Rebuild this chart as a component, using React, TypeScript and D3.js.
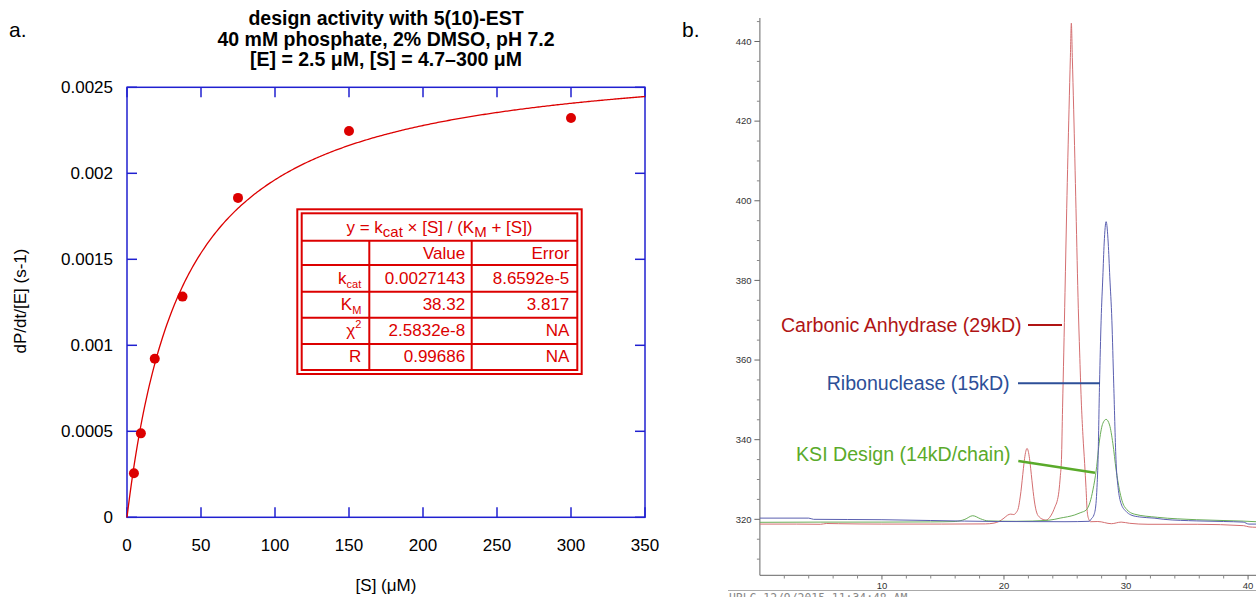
import React from "react";
import * as d3 from "d3";

// ---------- Panel a: Michaelis–Menten kinetics ----------
const substrateUM = [4.6875, 9.375, 18.75, 37.5, 75, 150, 300];
const rateValues = [0.000256, 0.000488, 0.000922, 0.001283, 0.001857, 0.002246, 0.002322];
const kcat = 0.0027143;
const KM = 38.32;
const xTicksA = [0, 50, 100, 150, 200, 250, 300, 350];
const yTicksA = [0, 0.0005, 0.001, 0.0015, 0.002, 0.0025];
const yTickLabelsA = ["0", "0.0005", "0.001", "0.0015", "0.002", "0.0025"];
const titleLines = [
  "design activity with 5(10)-EST",
  "40 mM phosphate, 2% DMSO, pH 7.2",
  "[E] = 2.5 \u03BCM, [S] = 4.7\u2013300 \u03BCM",
];
const xTitleA = "[S] (\u03BCM)";
const yTitleA = "dP/dt/[E] (s-1)";
const fitRows = [
  { name: "k", sub: "cat", sup: "", value: "0.0027143", error: "8.6592e-5" },
  { name: "K", sub: "M", sup: "", value: "38.32", error: "3.817" },
  { name: "\u03C7", sub: "", sup: "2", value: "2.5832e-8", error: "NA" },
  { name: "R", sub: "", sup: "", value: "0.99686", error: "NA" },
];

// ---------- Panel b: size-exclusion chromatograms ----------
const carbonicAnhydrase: [number, number][] = [
  [0, 318.8], [2.98, 318.8], [4.97, 318.75], [5.44, 318.95], [6.46, 318.9], [9.94, 318.8],
  [14.9, 318.8], [18.48, 318.85], [19.18, 319.05], [19.55, 319.4], [20.0, 320.3], [20.3, 321.05],
  [20.55, 321.3], [20.8, 321.2], [21.0, 321.7], [21.19, 323.0], [21.29, 324.8], [21.39, 327.0],
  [21.49, 329.8], [21.59, 332.7], [21.69, 335.3], [21.79, 337.1], [21.89, 337.8], [21.99, 337.1],
  [22.09, 335.3], [22.19, 332.7], [22.29, 329.8], [22.39, 327.0], [22.49, 324.6], [22.59, 322.8],
  [22.69, 321.6], [22.89, 320.6], [23.1, 320.1], [23.44, 319.8], [23.75, 320.5], [24.0, 321.8],
  [24.2, 323.3], [24.35, 324.5], [24.5, 327], [24.62, 331], [24.71, 335], [24.8, 348],
  [24.9, 362], [25.0, 377], [25.14, 398], [25.33, 423], [25.44, 436], [25.52, 444.6],
  [25.6, 436], [25.71, 423], [25.9, 398], [26.09, 373], [26.2, 362], [26.33, 350],
  [26.47, 341], [26.61, 334], [26.72, 328], [26.82, 322], [26.95, 320.0], [27.1, 319.4],
  [27.69, 319.45], [28.8, 318.9], [29.6, 319.3], [30.3, 319.0], [31.8, 318.75], [35.83, 318.75],
  [39.64, 318.4], [40.07, 318.1], [40.65, 318.0],
];
const ribonuclease: [number, number][] = [
  [0, 320.3], [4.0, 320.3], [4.4, 320.0], [10, 319.9], [14, 319.7], [19.5, 319.45], [25, 319.4],
  [27.0, 319.5], [27.15, 320.1], [27.37, 321.1], [27.54, 324], [27.62, 328], [27.7, 334.1],
  [27.83, 354.2], [27.96, 370], [28.1, 380.9], [28.21, 389.4], [28.37, 394.75], [28.54, 389.4],
  [28.67, 380.9], [28.84, 370], [28.99, 354.2], [29.19, 334.1], [29.35, 328], [29.59, 324],
  [30.0, 322], [30.4, 321.1], [31.1, 320.6], [32.3, 320.3], [33.1, 320.0], [35.8, 319.6],
  [38, 319.45], [39.6, 319.3], [40.07, 318.8], [40.65, 318.8],
];
const ksiDesign: [number, number][] = [
  [0, 319.25], [5, 319.3], [10, 319.3], [14, 319.35], [16.0, 319.45], [16.8, 320.0], [17.44, 320.9],
  [18.1, 320.1], [18.7, 319.6], [21, 319.5], [23.62, 319.75], [24.6, 320.3], [25.8, 321.1],
  [26.3, 321.7], [26.74, 322.35], [27.05, 324.3], [27.29, 327.4], [27.56, 332.4], [27.83, 339.9],
  [28.1, 344.1], [28.37, 345.1], [28.65, 343.7], [28.92, 339.1], [29.19, 332.4], [29.46, 327.4],
  [29.87, 323.2], [30.68, 321.3], [32.58, 320.5], [35.8, 319.9], [39.6, 319.55], [40.65, 319.4],
];
const yTicksB = [320, 340, 360, 380, 400, 420, 440];
const xTicksB = [10, 20, 30, 40];
const runStamp = "HPLC 12/9/2015 11:34:48 AM";

const SANS = "'Liberation Sans', Arial, Helvetica, sans-serif";
const RED = "#dc0000";
const BLUE = "#2020d0";

export default function App() {
  // panel a scales
  const xA = d3.scaleLinear().domain([0, 350]).range([127, 645]);
  const yA = d3.scaleLinear().domain([0, 0.0025]).range([517.3, 87.3]);
  const fitX = d3.range(0, 350.01, 1);
  const fitPath = d3
    .line<number>()
    .x((s) => xA(s))
    .y((s) => yA((kcat * s) / (KM + s)))(fitX) as string;

  // panel b scales
  const xB = d3.scaleLinear().domain([0, 40.65]).range([759.9, 1256]);
  const yB = d3.scaleLinear().domain([305.94, 445.9]).range([575.3, 18]);
  const trace = d3
    .line<[number, number]>()
    .x((d) => xB(d[0]))
    .y((d) => yB(d[1]))
    .curve(d3.curveMonotoneX);
  const minorY = d3.range(310, 446, 5).filter((v) => v % 20 !== 0);
  const minorX = d3.range(2, 41, 2).filter((v) => v % 10 !== 0);

  // table geometry
  const tX = [301.7, 369.3, 471.7, 577.3];
  const tY = [213.3, 240.7, 265, 291.7, 317.7, 344, 370];

  const [x0, x1] = xA.range();
  const [yb, yt] = yA.range();

  return (
    <svg
      width={1256}
      height={597}
      style={{ position: "absolute", left: 0, top: 0, background: "#fff" }}
      fontFamily={SANS}
    >
      <rect x={0} y={0} width={1256} height={597} fill="#fff" />
      {/* panel letters */}
      <text x={9} y={37} fontSize={21} fill="#000">a.</text>
      <text x={682} y={37} fontSize={21} fill="#000">b.</text>

      {/* ---------- panel a ---------- */}
      {titleLines.map((t, i) => (
        <text key={i} x={386} y={25 + i * 20.5} textAnchor="middle" fontWeight="bold" fontSize={19.5} fill="#000">
          {t}
        </text>
      ))}

      <rect x={x0} y={yt} width={x1 - x0} height={yb - yt} fill="none" stroke={BLUE} strokeWidth={1.5} />
      {xTicksA.map((v) => (
        <g key={"xa" + v} stroke={BLUE} strokeWidth={1.5}>
          <line x1={xA(v)} x2={xA(v)} y1={yb} y2={yb - 10} />
          <line x1={xA(v)} x2={xA(v)} y1={yt} y2={yt + 10} />
        </g>
      ))}
      {yTicksA.map((v) => (
        <g key={"ya" + v} stroke={BLUE} strokeWidth={1.5}>
          <line x1={x0} x2={x0 + 10} y1={yA(v)} y2={yA(v)} />
          <line x1={x1} x2={x1 - 10} y1={yA(v)} y2={yA(v)} />
        </g>
      ))}
      {xTicksA.map((v) => (
        <text key={"xl" + v} x={xA(v)} y={551} textAnchor="middle" fontSize={17} fill="#000">
          {v}
        </text>
      ))}
      {yTicksA.map((v, i) => (
        <text key={"yl" + v} x={113} y={yA(v)} dy="0.36em" textAnchor="end" fontSize={17} fill="#000">
          {yTickLabelsA[i]}
        </text>
      ))}
      <text x={386} y={591} textAnchor="middle" fontSize={17} fill="#000">{xTitleA}</text>
      <text transform="translate(26,301) rotate(-90)" textAnchor="middle" fontSize={17} fill="#000">
        {yTitleA}
      </text>

      <path d={fitPath} fill="none" stroke={RED} strokeWidth={1.3} />
      {substrateUM.map((s, i) => (
        <circle key={"pt" + i} cx={xA(s)} cy={yA(rateValues[i])} r={5} fill={RED} />
      ))}

      {/* fit parameter table */}
      <rect x={297.3} y={209.3} width={284.4} height={164.7} fill="#fff" stroke={RED} strokeWidth={2} />
      <rect x={tX[0]} y={tY[0]} width={tX[3] - tX[0]} height={tY[6] - tY[0]} fill="none" stroke={RED} strokeWidth={2} />
      {tY.slice(1, 6).map((y, i) => (
        <line key={"ty" + i} x1={tX[0]} x2={tX[3]} y1={y} y2={y} stroke={RED} strokeWidth={2} />
      ))}
      {[tX[1], tX[2]].map((x, i) => (
        <line key={"tx" + i} x1={x} x2={x} y1={tY[1]} y2={tY[6]} stroke={RED} strokeWidth={2} />
      ))}
      <text x={(tX[0] + tX[3]) / 2} y={233.3} textAnchor="middle" fontSize={17} fill={RED}>
        y = k<tspan fontSize={15} dy={4}>cat</tspan>
        <tspan dy={-4}> {"\u00D7"} [S] / (K</tspan>
        <tspan fontSize={15} dy={4}>M</tspan>
        <tspan dy={-4}> + [S])</tspan>
      </text>
      <text x={tX[2] - 6.5} y={259.3} textAnchor="end" fontSize={17} fill={RED}>Value</text>
      <text x={tX[3] - 8} y={259.3} textAnchor="end" fontSize={17} fill={RED}>Error</text>
      {fitRows.map((r, i) => {
        const base = 284 + i * 26.1;
        return (
          <g key={"row" + i} fill={RED} fontSize={17}>
            <text x={tX[1] - 8} y={base} textAnchor="end">
              {r.name}
              {r.sub && <tspan fontSize={11} dy={4}>{r.sub}</tspan>}
              {r.sup && <tspan fontSize={11} dy={-8}>{r.sup}</tspan>}
            </text>
            <text x={tX[2] - 6.5} y={base} textAnchor="end">{r.value}</text>
            <text x={tX[3] - 8} y={base} textAnchor="end">{r.error}</text>
          </g>
        );
      })}

      {/* ---------- panel b ---------- */}
      <line x1={xB(0)} x2={xB(0)} y1={18} y2={575.3} stroke="#666" strokeWidth={1} />
      <line x1={xB(0)} x2={1256} y1={575.3} y2={575.3} stroke="#666" strokeWidth={1} />
      {yTicksB.map((v) => (
        <g key={"yb" + v}>
          <line x1={xB(0) - 5.5} x2={xB(0)} y1={yB(v)} y2={yB(v)} stroke="#666" />
          <text x={751.5} y={yB(v)} dy="0.35em" textAnchor="end" fontSize={9.5} fill="#333">{v}</text>
        </g>
      ))}
      {minorY.map((v) => (
        <line key={"myb" + v} x1={xB(0) - 3} x2={xB(0)} y1={yB(v)} y2={yB(v)} stroke="#888" />
      ))}
      {minorX.map((v) => (
        <line key={"mxb" + v} x1={xB(v)} x2={xB(v)} y1={575.3} y2={578.5} stroke="#888" />
      ))}
      {xTicksB.map((v) => (
        <g key={"xb" + v}>
          <line x1={xB(v)} x2={xB(v)} y1={575.3} y2={579.5} stroke="#666" />
          <text x={xB(v)} y={589} textAnchor="middle" fontSize={9.5} fill="#333">{v}</text>
        </g>
      ))}
      <line x1={728} x2={1256} y1={590.5} y2={590.5} stroke="#aaa" strokeWidth={1} />
      <text x={729} y={602} fontFamily="'DejaVu Sans Mono', monospace" fontSize={11.4} fill="#888">
        {runStamp}
      </text>

      <path d={trace(carbonicAnhydrase) as string} fill="none" stroke="#d46e70" strokeWidth={1} />
      <path d={trace(ksiDesign) as string} fill="none" stroke="#6aae58" strokeWidth={1} />
      <path d={trace(ribonuclease) as string} fill="none" stroke="#5a5fb0" strokeWidth={1} />

      {/* trace annotations */}
      <text x={1021.6} y={332} textAnchor="end" fontSize={19.6} fill="#b01414">Carbonic Anhydrase (29kD)</text>
      <line x1={1028} x2={1062} y1={325} y2={325} stroke="#b01414" strokeWidth={2} />
      <text x={1009.6} y={389.5} textAnchor="end" fontSize={19.6} fill="#2d4f98">Ribonuclease (15kD)</text>
      <line x1={1018} x2={1100} y1={383.3} y2={383.3} stroke="#2d4f98" strokeWidth={2} />
      <text x={1010.6} y={461} textAnchor="end" fontSize={19.6} fill="#5aaa2a">KSI Design (14kD/chain)</text>
      <line x1={1018.3} x2={1095} y1={461} y2={472.7} stroke="#5aaa2a" strokeWidth={2.5} />
    </svg>
  );
}
